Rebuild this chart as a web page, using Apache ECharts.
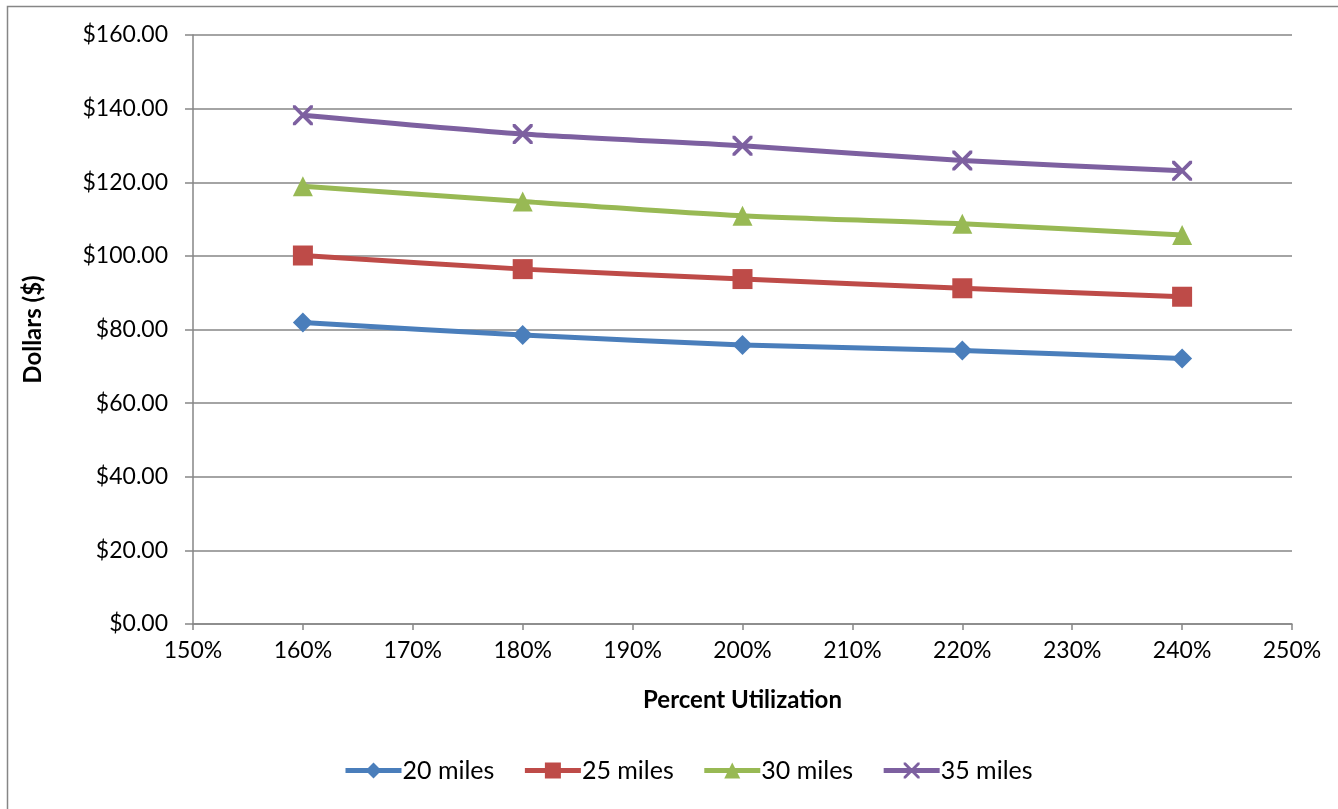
<!DOCTYPE html>
<html>
<head>
<meta charset="utf-8">
<script src="https://cdn.jsdelivr.net/npm/echarts@6/dist/echarts.min.js"></script>
<style>
  html, body { margin: 0; padding: 0; background: #fff; }
  #chart { width: 1338px; height: 809px; }
</style>
</head>
<body>
<div id="chart"></div>
<script>
// Percent utilization (x) and cost in dollars per mileage band
const utilization = [160, 180, 200, 220, 240];
const miles20 = [81.9, 78.5, 75.8, 74.3, 72.1];
const miles25 = [100.1, 96.4, 93.7, 91.2, 88.9];
const miles30 = [118.9, 114.8, 110.9, 108.7, 105.7];
const miles35 = [138.2, 133.1, 129.9, 125.9, 123.1];
const seriesNames = ['20 miles', '25 miles', '30 miles', '35 miles'];

const FONT = 'Lato, "Open Sans", sans-serif';
const TICK_FS = 23;
const TITLE_FS = 24;
const LEGEND_FS = 25;
// thin "x" marker drawn as two filled diagonal strips
const crossPath = 'path://M0,0L2.6,0L20,17.4L20,20L17.4,20L0,2.6Z M20,0L20,2.6L2.6,20L0,20L0,17.4L17.4,0Z';

function pairs(vals) {
  return utilization.map((u, i) => [u, vals[i]]);
}

const styles = [
  { color: '#4a7ebb', symbol: 'diamond', size: 20 },
  { color: '#be4b48', symbol: 'rect', size: 20 },
  { color: '#98b954', symbol: 'triangle', size: 20 },
  { color: '#7d60a0', symbol: crossPath, size: 20 }
];
const values = [miles20, miles25, miles30, miles35];

const chart = echarts.init(document.getElementById('chart'));
chart.setOption({
  animation: false,
  backgroundColor: '#fff',
  graphic: [{
    type: 'rect',
    shape: { x: 7.5, y: 6.5, width: 1400, height: 900 },
    style: { fill: 'none', stroke: '#868686', lineWidth: 1.5 },
    silent: true, z: -1
  }],
  grid: { left: 193, right: 46, top: 35, bottom: 185 },
  legend: {
    bottom: 21,
    left: 338,
    itemWidth: 56,
    itemHeight: 20,
    itemGap: 28,
    textStyle: { fontFamily: FONT, fontSize: LEGEND_FS, color: '#000', padding: [0, 0, 0, -4] },
    data: seriesNames.map((name, i) => ({
      name,
      lineStyle: { width: 5, color: styles[i].color }
    }))
  },
  xAxis: {
    type: 'value',
    min: 150, max: 250, interval: 10,
    name: 'Percent Utilization',
    nameLocation: 'middle',
    nameGap: 64,
    nameTextStyle: { fontFamily: FONT, fontSize: TITLE_FS, fontWeight: 'bold', color: '#000' },
    axisLine: { show: true, lineStyle: { color: '#868686', width: 1.5 } },
    axisTick: { show: true, length: 6, inside: false, lineStyle: { color: '#868686', width: 1.5 } },
    axisLabel: { formatter: '{value}%', fontFamily: FONT, fontSize: TICK_FS, color: '#000', margin: 15 },
    splitLine: { show: false }
  },
  yAxis: {
    type: 'value',
    min: 0, max: 160, interval: 20,
    name: 'Dollars ($)',
    nameLocation: 'middle',
    nameGap: 148,
    nameRotate: 90,
    nameTextStyle: { fontFamily: FONT, fontSize: TITLE_FS, fontWeight: 'bold', color: '#000' },
    axisLine: { show: true, lineStyle: { color: '#868686', width: 1.5 } },
    axisTick: { show: true, length: 8, lineStyle: { color: '#868686', width: 1.5 } },
    axisLabel: { formatter: v => '$' + v.toFixed(2), fontFamily: FONT, fontSize: TICK_FS, color: '#000', margin: 25 },
    splitLine: { show: true, lineStyle: { color: '#868686', width: 1.5 } }
  },
  series: seriesNames.map((name, i) => ({
    name,
    type: 'line',
    data: pairs(values[i]),
    smooth: 0.25,
    symbol: styles[i].symbol,
    symbolSize: styles[i].size,
    showAllSymbol: true,
    lineStyle: { color: styles[i].color, width: 5 },
    itemStyle: { color: styles[i].color },
    emphasis: { disabled: true }
  }))
});
</script>
</body>
</html>
